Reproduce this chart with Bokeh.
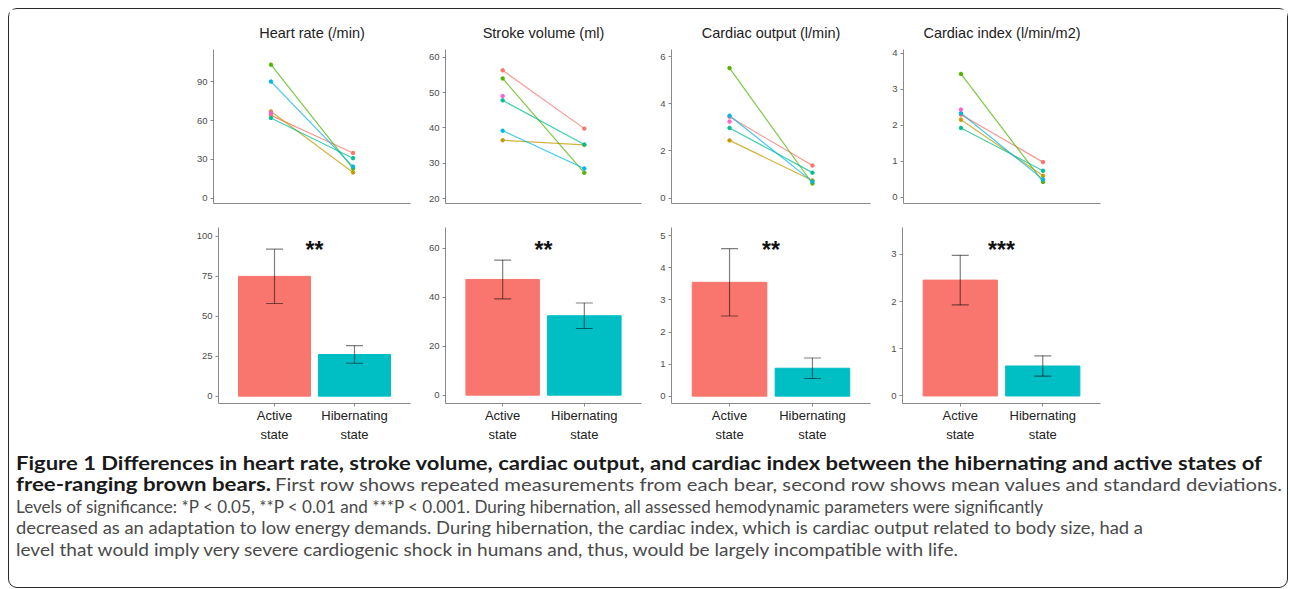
import math
from bokeh.plotting import figure
from bokeh.layouts import row, column
from bokeh.models import (ColumnDataSource, FactorRange, Range1d, FixedTicker,
                          Whisker, Div, LinearAxis)
from bokeh.core.properties import value
from bokeh.embed import file_html
from bokeh.resources import INLINE

nan = float("nan")

# ---------------- data ----------------
states = ["Active\nstate", "Hibernating\nstate"]
params = ["Heart rate (/min)", "Stroke volume (ml)",
          "Cardiac output (l/min)", "Cardiac index (l/min/m2)"]
bear_colors = ["#F8766D", "#C49A00", "#53B400", "#00C094", "#00B6EB", "#FB61D7"]

hr_active = [64.0, 67.0, 103.0, 62.0, 90.0, 66.0]
hr_hib = [35.0, 20.0, 23.0, 31.0, 24.5, nan]
sv_active = [56.3, 36.5, 54.0, 47.8, 39.2, 49.0]
sv_hib = [39.8, 35.2, 27.3, 35.3, 28.5, nan]
co_active = [3.45, 2.45, 5.52, 2.98, 3.50, 3.25]
co_hib = [1.38, 0.75, 0.62, 1.08, 0.70, nan]
ci_active = [2.30, 2.16, 3.43, 1.93, 2.34, 2.44]
ci_hib = [0.98, 0.60, 0.43, 0.74, 0.50, nan]

mean_active = [75.0, 47.2, 3.55, 2.455]
sd_active = [17.0, 7.9, 1.05, 0.525]
mean_hib = [26.1, 32.4, 0.87, 0.635]
sd_hib = [5.5, 5.2, 0.32, 0.215]
significance = ["**", "**", "**", "***"]

top_ticks = [[0, 30, 60, 90], [20, 30, 40, 50, 60], [0, 2, 4, 6], [0, 1, 2, 3, 4]]
bot_ticks = [[0, 25, 50, 75, 100], [0, 20, 40, 60], [0, 1, 2, 3, 4, 5], [0, 1, 2, 3]]
top_ylims = [(-3.9, 114.7), (18.6, 62.2), (-0.23, 6.31), (-0.17, 4.11)]
bot_ylims = [(-4.6, 105.6), (-3.4, 68.4), (-0.23, 5.26), (-0.16, 3.57)]

caption_lines = [
    [("b", "Figure 1 Differences in heart rate, stroke volume, cardiac output, and cardiac "
           "index between the hibernating and active states of")],
    [("b", "free-ranging brown bears."),
     ("r", "First row shows repeated measurements from each bear, second row shows mean "
           "values and standard deviations.")],
    [("r", "Levels of significance: *P < 0.05, **P < 0.01 and ***P < 0.001. During "
           "hibernation, all assessed hemodynamic parameters were significantly")],
    [("r", "decreased as an adaptation to low energy demands. During hibernation, the "
           "cardiac index, which is cardiac output related to body size, had a")],
    [("r", "level that would imply very severe cardiogenic shock in humans and, thus, "
           "would be largely incompatible with life.")],
]

top_active = [hr_active, sv_active, co_active, ci_active]
top_hib = [hr_hib, sv_hib, co_hib, ci_hib]
bar_colors = ["#F8766D", "#00BFC4"]

# ---------------- layout constants ----------------
FONT = "Liberation Sans"
AXIS_COL = "#8a8a8a"
LABEL_COL = "#4d4d4d"
widths = [416, 230, 230, 402]
top_lr = [(204, 15), (20, 14), (16, 15), (18, 187)]
bot_lr = [(209, 15), (20, 14), (16, 15), (17, 187)]
# caption text runs: (x start, width) inside the caption box, per line
caption_geom = [[(7, 1246)], [(7, 255), (266, 1007)], [(7, 1027)], [(7, 1127)], [(7, 942)]]
caption_baselines = [25, 46, 68, 89, 111]


def style_axes(p, yticks):
    p.grid.visible = False
    p.outline_line_color = None
    p.background_fill_color = "white"
    p.border_fill_color = "white"
    for ax in (p.xaxis[0], p.yaxis[0]):
        ax.axis_line_color = AXIS_COL
        ax.axis_line_width = 1
        ax.major_tick_line_color = AXIS_COL
        ax.major_tick_out = 3
        ax.major_tick_in = 0
        ax.minor_tick_line_color = None
    p.yaxis.ticker = FixedTicker(ticks=yticks)
    p.yaxis.major_label_text_font = FONT
    p.yaxis.major_label_text_font_size = "9.5px"
    p.yaxis.major_label_text_color = LABEL_COL
    p.yaxis.major_label_standoff = 3


top_figs = []
for i in range(4):
    lft, rgt = top_lr[i]
    p = figure(width=widths[i], height=206,
               x_range=FactorRange(*states, range_padding=0.2,
                                   range_padding_units="absolute"),
               y_range=Range1d(*top_ylims[i]), x_axis_type=None,
               output_backend="svg", toolbar_location=None,
               min_border_left=lft, min_border_right=rgt,
               min_border_top=40, min_border_bottom=12)
    p.add_layout(LinearAxis(ticker=FixedTicker(ticks=[])), "below")
    p.title.text = params[i]
    p.title.align = "center"
    p.title.standoff = 18
    p.title.text_font = FONT
    p.title.text_font_size = "14.5px"
    p.title.text_font_style = "normal"
    p.title.text_color = "#222222"
    style_axes(p, top_ticks[i])
    act, hib = top_active[i], top_hib[i]
    for j, c in enumerate(bear_colors):
        if not math.isnan(hib[j]):
            p.line(x=states, y=[act[j], hib[j]], line_color=c,
                   line_width=1.2, line_alpha=0.75)
    p.scatter(x=[states[0]] * len(act), y=act, color=bear_colors, size=3.5)
    hx = [states[1] for v in hib if not math.isnan(v)]
    hy = [v for v in hib if not math.isnan(v)]
    hc = [bear_colors[j] for j, v in enumerate(hib) if not math.isnan(v)]
    p.scatter(x=hx, y=hy, color=hc, size=3.5)
    top_figs.append(p)

bot_figs = []
for i in range(4):
    lft, rgt = bot_lr[i]
    lo, hi = bot_ylims[i]
    p = figure(width=widths[i], height=230,
               x_range=FactorRange(*states, range_padding=0.2,
                                   range_padding_units="absolute"),
               y_range=Range1d(lo, hi),
               output_backend="svg", toolbar_location=None,
               min_border_left=lft, min_border_right=rgt,
               min_border_top=12, min_border_bottom=42)
    style_axes(p, bot_ticks[i])
    p.xaxis.major_label_text_font = FONT
    p.xaxis.major_label_text_font_size = "13px"
    p.xaxis.major_label_text_color = "#222222"
    p.xaxis.major_label_standoff = 1
    p.xaxis.major_label_text_line_height = 1.32
    ma, mh = mean_active[i], mean_hib[i]
    sa, sh = sd_active[i], sd_hib[i]
    src = ColumnDataSource(dict(state=states, mean=[ma, mh],
                                upper=[ma + sa, mh + sh],
                                lower=[ma - sa, mh - sh],
                                color=bar_colors))
    p.vbar(x="state", top="mean", width=0.9, color="color", source=src)
    w = Whisker(base="state", upper="upper", lower="lower", source=src,
                line_color="black", line_alpha=0.5, line_width=1.2,
                level="overlay")
    for head in (w.upper_head, w.lower_head):
        head.size = 17
        head.line_color = "black"
        head.line_alpha = 0.5
        head.line_width = 1.2
    p.add_layout(w)
    ystar = lo + 0.875 * (hi - lo)
    p.text(x=[1.0], y=[ystar], text=[significance[i]], text_align="center",
           text_baseline="middle", text_font=value(FONT),
           text_font_size="23px", text_font_style="bold", text_color="#111111")
    bot_figs.append(p)


def esc(s):
    return s.replace("&", "&amp;").replace("<", "&lt;").replace(">", "&gt;")


parts = ['<svg xmlns="http://www.w3.org/2000/svg" width="1278" height="142" '
         'style="display:block">']
for runs, geom, yb in zip(caption_lines, caption_geom, caption_baselines):
    for (kind, txt), (x0, wd) in zip(runs, geom):
        weight = "bold" if kind == "b" else "normal"
        fill = "#1a1a1a" if kind == "b" else "#4a4a4a"
        parts.append(
            f'<text x="{x0}" y="{yb}" '
            f'style="font-family:Lato,sans-serif;font-size:18px;font-weight:{weight};fill:{fill}" '
            f'textLength="{wd}" lengthAdjust="spacingAndGlyphs">{esc(txt)}</text>')
parts.append('</svg>')
caption = Div(text="".join(parts), width=1278, height=142, margin=(0, 0, 0, 0))

layout = column(row(*top_figs), row(*bot_figs), caption,
                styles={"border": "1.4px solid #2a2a2a", "border-radius": "9px",
                        "background": "white", "margin-left": "8px",
                        "margin-top": "8px"})

open("out.html", "w").write(file_html(layout, INLINE))
